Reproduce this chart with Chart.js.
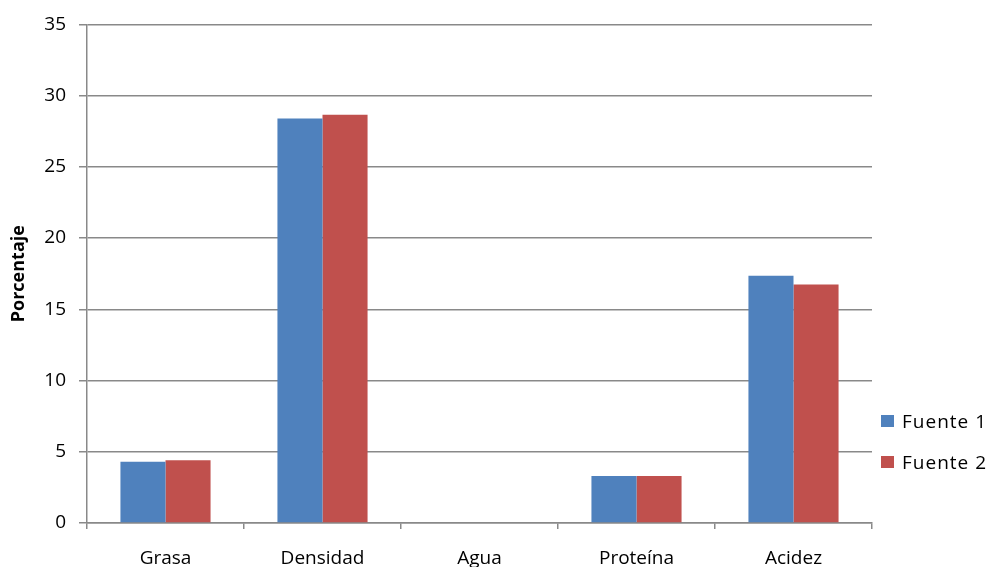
<!DOCTYPE html>
<html>
<head>
<meta charset="utf-8">
<script src="https://cdn.jsdelivr.net/npm/chart.js@4.4.1/dist/chart.umd.min.js"></script>
<style>
  html, body { margin: 0; padding: 0; background: #fff; }
  #wrap { width: 991px; height: 567px; position: relative; }
</style>
</head>
<body>
<div id="wrap"><canvas id="c" width="991" height="567"></canvas></div>
<script>
const categories = ['Grasa', 'Densidad', 'Agua', 'Proteína', 'Acidez'];
const fuente1 = [4.3, 28.4, 0, 3.3, 17.35];
const fuente2 = [4.4, 28.65, 0, 3.3, 16.75];
const seriesNames = ['Fuente 1', 'Fuente 2'];
const yTicks = [0, 5, 10, 15, 20, 25, 30, 35];
const yTitle = 'Porcentaje';

const FONT = "'Open Sans', 'Liberation Sans', sans-serif";
const GRID = '#898989';

// Legend drawn at the right, vertically placed like an Office chart legend
const sideLegend = {
  id: 'sideLegend',
  afterDraw(chart) {
    const ctx = chart.ctx;
    ctx.save();
    ctx.font = '19px ' + FONT;
    if ('letterSpacing' in ctx) ctx.letterSpacing = '1px';
    ctx.textBaseline = 'middle';
    ctx.textAlign = 'left';
    chart.data.datasets.forEach((ds, i) => {
      const cy = 421 + i * 41;
      ctx.fillStyle = ds.backgroundColor;
      ctx.fillRect(881, cy - 6, 13, 12);
      ctx.fillStyle = '#000';
      ctx.fillText(ds.label, 902, cy + 2);
    });
    ctx.restore();
  }
};

new Chart(document.getElementById('c'), {
  type: 'bar',
  data: {
    labels: categories,
    datasets: [
      { label: seriesNames[0], data: fuente1, backgroundColor: '#4F81BD' },
      { label: seriesNames[1], data: fuente2, backgroundColor: '#C0504D' }
    ]
  },
  plugins: [sideLegend],
  options: {
    responsive: false,
    animation: false,
    devicePixelRatio: 1,
    layout: { padding: { top: 24, right: 119, left: 0, bottom: 0 } },
    datasets: { bar: { categoryPercentage: 0.574, barPercentage: 1.0, borderWidth: 0 } },
    plugins: { legend: { display: false }, tooltip: { enabled: false } },
    scales: {
      x: {
        offset: true,
        grid: { offset: true, drawOnChartArea: false, drawTicks: true, tickLength: 6, color: GRID, lineWidth: 1.5 },
        border: { color: GRID, width: 1.5 },
        ticks: { color: '#000', font: { family: FONT, size: 19 }, padding: 18, maxRotation: 0 },
        afterFit(s) { s.height = 44; }
      },
      y: {
        min: 0, max: 35,
        afterBuildTicks(s) { s.ticks = yTicks.map(v => ({ value: v })); },
        grid: { color: GRID, lineWidth: 1.5, tickLength: 8 },
        border: { color: GRID, width: 1.5 },
        ticks: { color: '#000', font: { family: FONT, size: 19 }, padding: 13 },
        title: { display: true, text: yTitle, color: '#000', font: { family: FONT, size: 18, weight: 'bold' }, padding: { top: 8, bottom: 0 } },
        afterFit(s) { s.width = 87; }
      }
    }
  }
});
</script>
</body>
</html>
